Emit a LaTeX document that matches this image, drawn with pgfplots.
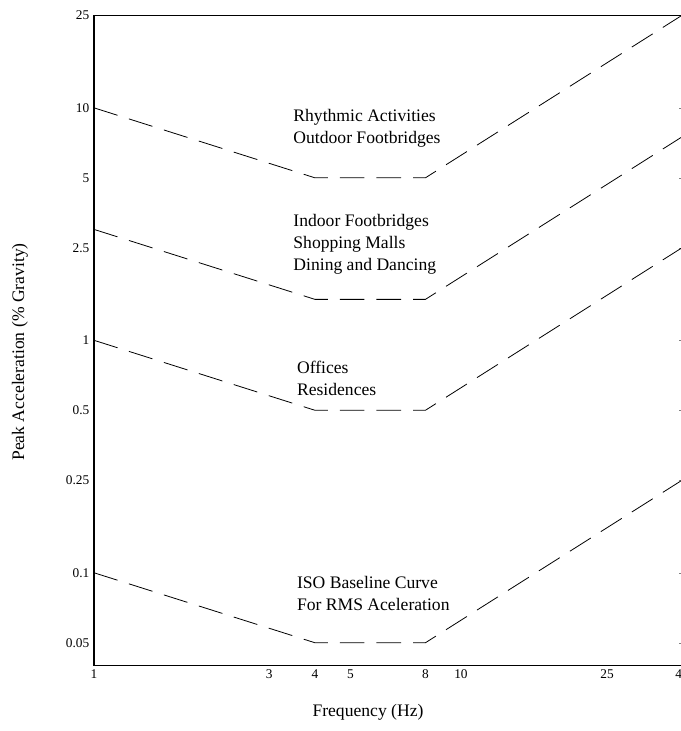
\documentclass[border=0pt]{standalone}
\usepackage{pgfplots}
\pgfplotsset{compat=1.18}
\usepackage{fontspec}
\setmainfont{Liberation Serif}

% 1 px of the reference = 0.75pt
\begin{document}
\begin{tikzpicture}
\begin{axis}[
    name=ax,
    xmode=log, ymode=log,
    scale only axis,
    width=441pt, height=487.5pt,
    xmin=1, xmax=40,
    ymin=0.04, ymax=25,
    axis line style={line width=0.9pt},
    xtick={1,3,4,5,8,10,25,40},
    xticklabels={1,3,4,5,8,10,25,40},
    ytick={0.05,0.1,0.25,0.5,1,2.5,5,10,25},
    yticklabels={0.05,0.1,0.25,0.5,1,2.5,5,10,25},
    xtick style={draw=none},
    ytick pos=right, yticklabel pos=left,
    tick align=inside,
    major tick length=2.5pt,
    every tick label/.style={font=\fontsize{10}{11}\selectfont},
    /pgf/number format/assume math mode=true,
    xlabel={Frequency (Hz)},
    ylabel={Peak Acceleration (\% Gravity)},
    label style={font=\fontsize{13.2}{15}\selectfont},
    xlabel style={at={(axis description cs:0.466,-0.073)}, anchor=center},
    ylabel style={at={(axis description cs:-0.126,0.482)}, anchor=center},
    cycle list={black,mark=none,line width=0.6pt,dash pattern=on 18.5pt off 9pt\\},
]

% outdoor footbridges / rhythmic activities
\addplot coordinates {(1,10) (4,5) (8,5) (40,25)};
% indoor footbridges, shopping malls, dining and dancing
\addplot coordinates {(1,3) (4,1.5) (8,1.5) (40,7.5)};
% offices, residences
\addplot coordinates {(1,1) (4,0.5) (8,0.5) (40,2.5)};
% ISO baseline curve
\addplot coordinates {(1,0.1) (4,0.05) (8,0.05) (40,0.25)};

\begin{scope}[every node/.style={anchor=west, align=left, inner sep=0pt,
    font=\fontsize{13.2}{16.5}\selectfont}]
\node at (axis cs:3.49,8.13) {Rhythmic Activities\\Outdoor Footbridges};
\node at (axis cs:3.49,2.6) {Indoor Footbridges\\Shopping Malls\\Dining and Dancing};
\node at (axis cs:3.57,0.684) {Offices\\Residences};
\node at (axis cs:3.57,0.0816) {ISO Baseline Curve\\For RMS Aceleration};
\end{scope}
\end{axis}
% crop like the reference: the right border falls just outside the picture
\pgfresetboundingbox
\useasboundingbox ([xshift=-70.5pt, yshift=-49.3pt]ax.south west)
    rectangle ([xshift=-0.75pt, yshift=11.5pt]ax.north east);
\end{tikzpicture}
\end{document}
